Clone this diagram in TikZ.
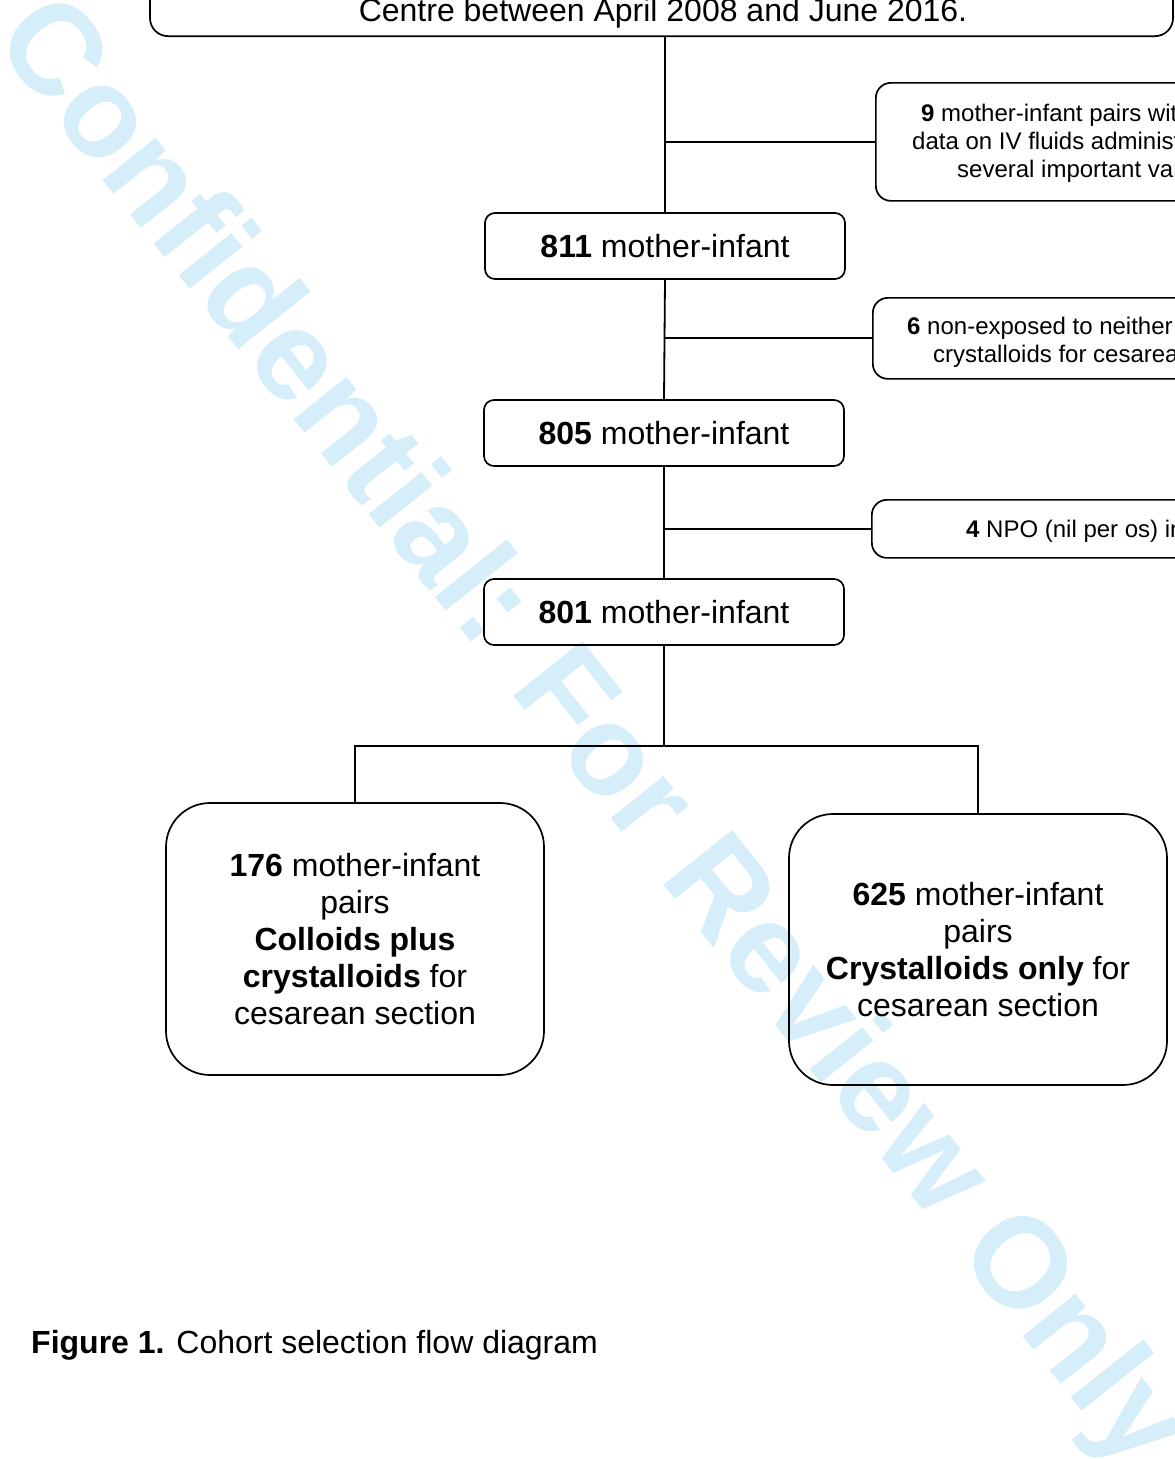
\documentclass[tikz,border=0pt]{standalone}
\usepackage{fontspec}
\setmainfont{Liberation Sans}
\definecolor{wmblue}{RGB}{214,238,250}
\begin{document}
\begin{tikzpicture}[x=1pt,y=-1pt,
  bigfont/.style={font=\fontsize{32}{36.8}\selectfont},
  smallfont/.style={font=\fontsize{24}{28}\selectfont},
  box/.style={draw, line width=1.7pt, rounded corners=10pt, inner sep=0pt, align=center, bigfont},
  sidebox/.style={draw, line width=1.7pt, rounded corners=15pt, inner sep=0pt, minimum width=500pt, anchor=north west},
  bigbox/.style={box, rounded corners=44pt, minimum width=378pt},
  sidetext/.style={anchor=base west, inner sep=0pt, smallfont},
  conn/.style={line width=1.8pt}]
\useasboundingbox (0,0) rectangle (1175,1459);
\clip (0,0) rectangle (1175,1459);
% watermark
\node[rotate=-51.5, anchor=base, inner sep=0pt, text=wmblue,
      font=\fontsize{128}{128}\selectfont\bfseries] (wm) at (562,757) {Confidential: For Review Only};
% top box
\node[box, rounded corners=18pt, minimum width=1023pt, minimum height=200pt, anchor=south] (top) at (661.5,37) {};
\node[anchor=base, inner sep=0pt, bigfont] (toptext) at (663,21) {Centre between April 2008 and June 2016.};
% main chain
\node[box, minimum width=360pt, minimum height=66pt] (n811) at (665,246) {\textbf{811} mother-infant};
\node[box, minimum width=360pt, minimum height=66pt] (n805) at (664,433) {\textbf{805} mother-infant};
\node[box, minimum width=360pt, minimum height=66pt] (n801) at (664,612) {\textbf{801} mother-infant};
% side boxes
\node[sidebox, minimum height=118pt] (s1) at (875,82) {};
\node[sidetext] (s1a) at (921,121) {\textbf{9} mother-infant pairs with};
\node[sidetext] (s1b) at (912,149) {data on IV fluids administration};
\node[sidetext] (s1c) at (957,177) {several important variables};
\node[sidebox, minimum height=81pt] (s2) at (872,297) {};
\node[sidetext] (s2a) at (907,334) {\textbf{6} non-exposed to neither};
\node[sidetext] (s2b) at (933,362) {crystalloids for cesarean};
\node[sidebox, minimum height=58pt] (s3) at (871,499) {};
\node[sidetext] (s3a) at (966,537) {\textbf{4} NPO (nil per os) in};
% bottom boxes
\node[bigbox, minimum height=272pt] (left) at (355,939)
  {\textbf{176} mother-infant\\pairs\\\textbf{Colloids plus}\\\textbf{crystalloids} for\\cesarean section};
\node[bigbox, minimum height=271pt] (right) at (978,949.5)
  {\textbf{625} mother-infant\\pairs\\\textbf{Crystalloids only} for\\cesarean section};
% caption
\node[anchor=base west, inner sep=0pt, bigfont] (cap) at (31,1353) {\textbf{Figure 1.} Cohort selection flow diagram};
% connectors
\draw[conn] (n811.north |- top.south) -- (n811.north);
\draw[conn] (s1.west -| n811.north) -- (s1.west);
\draw[conn] (n811.south) -- (n805.north);
\draw[conn] (s2.west -| n811.south) -- (s2.west);
\draw[conn] (n805.south) -- (n801.north);
\draw[conn] (s3.west -| n805.south) -- (s3.west);
\path (n801.south) ++(0,100) coordinate (split);
\draw[conn] (n801.south) -- (split);
\draw[conn] (left.north) |- (split) -| (right.north);
\end{tikzpicture}
\end{document}
